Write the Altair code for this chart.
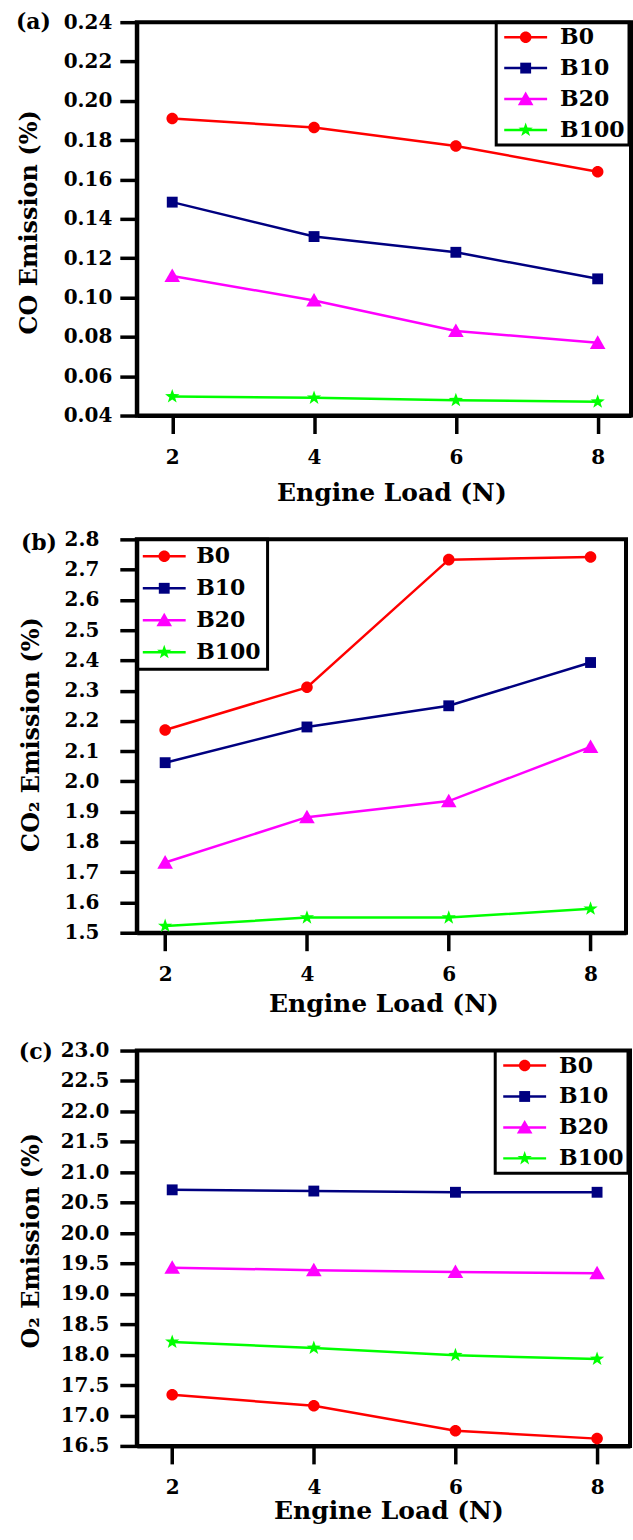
import altair as alt
import pandas as pd

# ---------------- data ----------------
loads = [2, 4, 6, 8]
series = ["B0", "B10", "B20", "B100"]
colors = ["#ff0000", "#000080", "#ff00ff", "#00ff00"]

co_b0 = [0.191, 0.1865, 0.177, 0.164]
co_b10 = [0.1485, 0.131, 0.123, 0.1095]
co_b20 = [0.111, 0.0985, 0.083, 0.077]
co_b100 = [0.0497, 0.0490, 0.0478, 0.0470]

co2_b0 = [2.170, 2.311, 2.733, 2.742]
co2_b10 = [2.062, 2.180, 2.250, 2.393]
co2_b20 = [1.732, 1.882, 1.935, 2.114]
co2_b100 = [1.522, 1.550, 1.550, 1.579]

o2_b0 = [17.34, 17.16, 16.75, 16.62]
o2_b10 = [20.71, 20.69, 20.67, 20.67]
o2_b20 = [19.43, 19.39, 19.36, 19.34]
o2_b100 = [18.21, 18.11, 17.99, 17.93]

co_ticks = [0.04, 0.06, 0.08, 0.10, 0.12, 0.14, 0.16, 0.18, 0.20, 0.22, 0.24]
co2_ticks = [1.5, 1.6, 1.7, 1.8, 1.9, 2.0, 2.1, 2.2, 2.3, 2.4, 2.5, 2.6, 2.7, 2.8]
o2_ticks = [16.5, 17.0, 17.5, 18.0, 18.5, 19.0, 19.5, 20.0, 20.5, 21.0, 21.5, 22.0, 22.5, 23.0]

FONT = "DejaVu Serif"

# marker paths (unit box), line symbol for the legend
circle_p = "M-0.85,0A0.85,0.85 0 1,0 0.85,0A0.85,0.85 0 1,0 -0.85,0Z"
square_p = "M-0.8,-0.8L0.8,-0.8L0.8,0.8L-0.8,0.8Z"
tri_p = "M0,-1.1L1.15,0.9L-1.15,0.9Z"
star_p = ("M0,-1.1L0.26,-0.36L1.05,-0.34L0.42,0.14L0.65,0.89L0,0.44"
          "L-0.65,0.89L-0.42,0.14L-1.05,-0.34L-0.26,-0.36Z")
shape_paths = [circle_p, square_p, tri_p, star_p]
line_path = "M-3,0L3,0"


def panel(vals, ydom, yticks, yfmt, ytitle, tag, P):
    df = pd.DataFrame({
        "load": loads * 4,
        "value": [v for s in vals for v in s],
        "series": [s for s in series for _ in loads],
    })
    df["name"] = df["series"]
    xenc = alt.X(
        "load:Q",
        scale=alt.Scale(domain=P["xdom"], nice=False, zero=False),
        axis=alt.Axis(values=loads, format="d", title="Engine Load (N)",
                      titleX=P["xtx"], titleY=P["xty"], titleBaseline="alphabetic",
                      titleAlign="center", labelPadding=14, tickSize=18),
    )
    yenc = alt.Y(
        "value:Q",
        scale=alt.Scale(domain=ydom, nice=False, zero=False),
        axis=alt.Axis(values=yticks, format=yfmt, title=ytitle,
                      titleX=P["ytx"], titleY=P["yty"], titleAngle=270,
                      titleBaseline="middle", titleAlign="center",
                      labelPadding=P["ylp"], tickSize=17),
    )
    common = dict(orient="none", legendX=P["lx"], legendY=P["ly"], title=None,
                  labelFont=FONT, labelFontSize=22, labelFontWeight="bold",
                  labelColor="black", rowPadding=P["rp"], padding=P["pad"],
                  symbolOffset=P["so"], labelOffset=P["lo"])
    # lines: own stroke scale, legend shows the line segments and the labels
    line = alt.Chart(df).mark_line(strokeWidth=2.5).encode(
        x=xenc, y=yenc,
        stroke=alt.Stroke("series:N", sort=series, scale=alt.Scale(range=colors),
                          legend=alt.Legend(symbolType=line_path, symbolSize=205,
                                            symbolStrokeWidth=2.5, strokeColor="black",
                                            **common)),
    )
    # markers: colour + shape legend (same domain -> merged), drawn over the lines
    pleg = alt.Legend(symbolSize=185, symbolStrokeWidth=0, labelOpacity=0, **common)
    pts = alt.Chart(df).mark_point(filled=True, size=185, opacity=1).encode(
        x=xenc, y=yenc,
        color=alt.Color("name:N", scale=alt.Scale(domain=series, range=colors),
                        legend=pleg),
        shape=alt.Shape("name:N", scale=alt.Scale(domain=series, range=shape_paths),
                        legend=pleg),
    )
    lab = alt.Chart(pd.DataFrame({"t": [tag]})).mark_text(
        font=FONT, fontSize=22, fontWeight="bold", align="center", baseline="middle",
        color="black",
    ).encode(text="t:N", x=alt.value(P["tx"]), y=alt.value(P["ty"]))
    return alt.layer(line, pts, lab).properties(width=P["w"], height=P["h"])


pa = dict(xdom=[1.5, 8.47], w=495, h=394, xtx=255, xty=85, ytx=-107, yty=200, ylp=8,
          lx=360, ly=0, rp=9, pad=4, so=14.5, lo=23.5, tx=-103.5, ty=0)
pb = dict(xdom=[1.6, 8.5], w=490, h=394, xtx=247, xty=79, ytx=-105, yty=195, ylp=21,
          lx=0, ly=0, rp=10, pad=6, so=10.5, lo=21, tx=-98, ty=4)
pc = dict(xdom=[1.5, 8.465], w=494, h=396, xtx=252, xty=73, ytx=-105, yty=190, ylp=11,
          lx=359, ly=0, rp=9, pad=4, so=14.5, lo=23.5, tx=-101, ty=1)

a = panel([co_b0, co_b10, co_b20, co_b100], [0.04, 0.24], co_ticks, ".2f",
          "CO Emission (%)", "(a)", pa)
b = panel([co2_b0, co2_b10, co2_b20, co2_b100], [1.5, 2.8], co2_ticks, ".1f",
          "CO\u2082 Emission (%)", "(b)", pb)
c = panel([o2_b0, o2_b10, o2_b20, o2_b100], [16.5, 23.0], o2_ticks, ".1f",
          "O\u2082 Emission (%)", "(c)", pc)

chart = alt.vconcat(a, b, c, spacing=20).resolve_scale(
    color="independent", shape="independent", stroke="independent"
).properties(
    padding={"top": 8, "left": 13, "right": 0, "bottom": 0},
    background="white",
).configure_view(
    stroke="black", strokeWidth=4
).configure_axis(
    grid=False, domainColor="black", domainWidth=4, tickColor="black", tickWidth=3.5,
    labelFont=FONT, labelFontSize=20, labelFontWeight="bold", labelColor="black",
    titleFont=FONT, titleFontWeight="bold", titleColor="black",
).configure_axisX(
    titleFontSize=25
).configure_axisY(
    titleFontSize=24
).configure_legend(
    strokeWidth=3
)

chart.save("out.html", embed_options={"renderer": "svg", "actions": False})
